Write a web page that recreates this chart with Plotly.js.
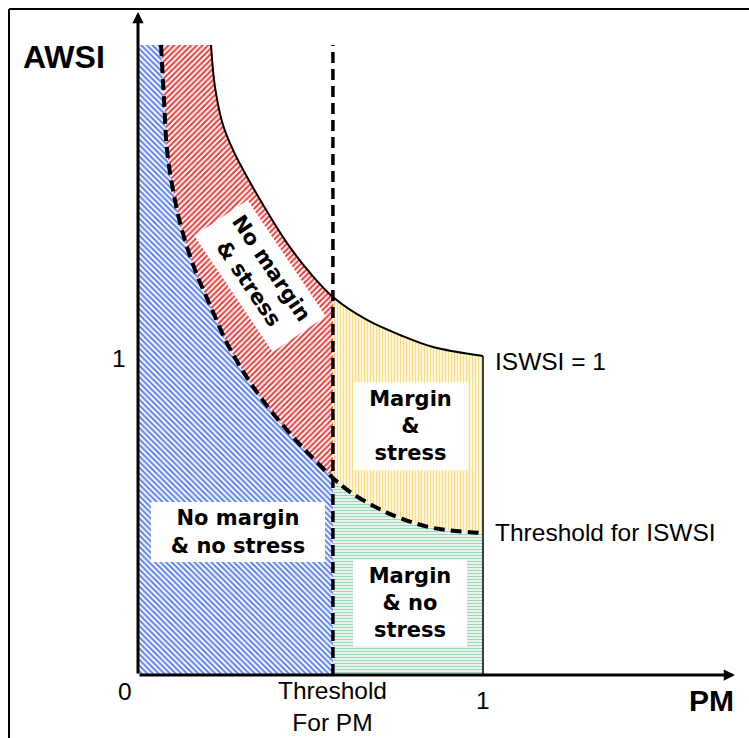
<!DOCTYPE html>
<html><head><meta charset="utf-8">
<script src="https://cdn.plot.ly/plotly-3.0.1.min.js"></script>
<style>html,body{margin:0;padding:0;background:#fff}#chart{width:749px;height:738px}</style>
</head><body><div id="chart"></div>
<script>
// ---- data ----
const PM_THRESHOLD = 0.565;
const AWSI_CAP = 1.975;
// ISWSI = 1 curve
const iswsiPM   = [0.2116, 0.2232, 0.2464, 0.2783, 0.3246, 0.3768, 0.4377, 0.5014, 0.565, 0.6638, 0.7594, 0.8551, 1.0];
const iswsiAWSI = [1.975, 1.843, 1.724, 1.639, 1.545, 1.448, 1.345, 1.257, 1.185, 1.113, 1.066, 1.028, 1.0];
// Threshold for ISWSI curve
const thrPM   = [0.0667, 0.0754, 0.0841, 0.1014, 0.1275, 0.1652, 0.2087, 0.2609, 0.3246, 0.3884, 0.4783, 0.565, 0.6145, 0.6928, 0.7594, 0.8551, 1.0];
const thrAWSI = [1.975, 1.803, 1.646, 1.520, 1.395, 1.270, 1.160, 1.034, 0.918, 0.824, 0.712, 0.618, 0.574, 0.524, 0.492, 0.461, 0.445];
// ticks and texts
const xTickVals = [0, PM_THRESHOLD, 1];
const xTickText = ['0', 'Threshold<br>For PM', '1'];
const yTickVals = [1];
const yTickText = ['1'];
const axisTitles = {x: 'PM', y: 'AWSI'};
const curveLabels = ['ISWSI = 1', 'Threshold for ISWSI'];
const regionLabels = ['No margin<br>& no stress', 'No margin<br>& stress', 'Margin<br>&<br>stress', 'Margin<br>& no<br>stress'];

// ---- geometry of the page ----
const W = 749, H = 738;
const M = {l: 138, r: 7, t: 8, b: 63};
const PX_PER_X = 345, PX_PER_Y = 319;
const plotW = W - M.l - M.r, plotH = H - M.t - M.b;
const px2px = px => (px - M.l) / plotW;           // pixel -> paper x
const py2py = py => (H - M.b - py) / plotH;       // pixel -> paper y

function seg(xs, ys, test) {
  const X = [], Y = [];
  xs.forEach((x, i) => { if (test(x)) { X.push(x); Y.push(ys[i]); } });
  return {x: X, y: Y};
}
const eps = 1e-9;
const upL = seg(iswsiPM, iswsiAWSI, x => x <= PM_THRESHOLD + eps);
const upR = seg(iswsiPM, iswsiAWSI, x => x >= PM_THRESHOLD - eps);
const loL = seg(thrPM, thrAWSI, x => x <= PM_THRESHOLD + eps);
const loR = seg(thrPM, thrAWSI, x => x >= PM_THRESHOLD - eps);

const hidden = s => ({x: s.x, y: s.y, mode: 'lines', line: {width: 0, shape: 'spline', smoothing: 1},
  hoverinfo: 'skip', showlegend: false});
const pat = (shape, fg, size, sol) => ({shape: shape, fgcolor: fg, bgcolor: '#ffffff', size: size, solidity: sol, fillmode: 'replace'});

const traces = [
  hidden(loL),
  {x: [0, 0, PM_THRESHOLD], y: [AWSI_CAP, 0, 0], mode: 'lines', line: {width: 0}, fill: 'tonexty',
   fillcolor: '#ffffff', fillpattern: pat('\\', '#5b7ff0', 4, 0.5), hoverinfo: 'skip', showlegend: false},
  hidden(upL),
  {x: loL.x, y: loL.y, mode: 'lines', line: {width: 0, shape: 'spline', smoothing: 1}, fill: 'tonexty',
   fillcolor: '#ffffff', fillpattern: pat('/', '#ee3b3b', 4, 0.5), hoverinfo: 'skip', showlegend: false},
  hidden(loR),
  {x: [PM_THRESHOLD, 1], y: [0, 0], mode: 'lines', line: {width: 0}, fill: 'tonexty',
   fillcolor: '#ffffff', fillpattern: pat('-', '#9fd3b3', 3, 0.5), hoverinfo: 'skip', showlegend: false},
  hidden(upR),
  {x: loR.x, y: loR.y, mode: 'lines', line: {width: 0, shape: 'spline', smoothing: 1}, fill: 'tonexty',
   fillcolor: '#ffffff', fillpattern: pat('|', '#ffdc7a', 3, 0.5), hoverinfo: 'skip', showlegend: false},
  // curves and lines
  {x: iswsiPM, y: iswsiAWSI, mode: 'lines', line: {color: '#000', width: 2, shape: 'spline', smoothing: 1}, showlegend: false},
  {x: [1, 1], y: [iswsiAWSI[iswsiAWSI.length - 1], 0], mode: 'lines', line: {color: '#000', width: 1.5}, showlegend: false},
  {x: thrPM, y: thrAWSI, mode: 'lines', line: {color: '#000', width: 4, dash: '11px,6px', shape: 'spline', smoothing: 1}, showlegend: false},
  {x: [PM_THRESHOLD, PM_THRESHOLD], y: [0, AWSI_CAP], mode: 'lines', line: {color: '#000', width: 3.5, dash: '11px,6px'}, showlegend: false}
];

const sans = 'Liberation Sans, Arial, sans-serif';
const boxFont = {family: 'DejaVu Sans, Verdana, sans-serif', size: 21, color: '#000', weight: 'bold'};
const LBL = 24.5;
const annotations = [];

// axis arrows
annotations.push({x: (735 - M.l) / PX_PER_X, y: 0, ax: 0, ay: 0, xref: 'x', yref: 'y', axref: 'x', ayref: 'y',
  text: '', showarrow: true, arrowhead: 2, arrowsize: 0.75, arrowwidth: 3, arrowcolor: '#000', standoff: 0, startstandoff: 0});
annotations.push({x: 0, y: (H - M.b - 12) / PX_PER_Y, ax: 0, ay: 0, xref: 'x', yref: 'y', axref: 'x', ayref: 'y',
  text: '', showarrow: true, arrowhead: 2, arrowsize: 0.75, arrowwidth: 3, arrowcolor: '#000', standoff: 0, startstandoff: 0});

// x tick labels
const xTickY = [691, 706, 700];
const xTickAnchor = ['right', 'center', 'center'];
const xTickShift = [-4, 0, 0];
xTickVals.forEach((v, i) => annotations.push({x: v, y: py2py(xTickY[i]), xref: 'x', yref: 'paper',
  text: xTickText[i], showarrow: false, xanchor: xTickAnchor[i], yanchor: 'middle', xshift: xTickShift[i],
  font: {family: sans, size: LBL, color: '#000'}}));
// y tick labels
yTickVals.forEach((v, i) => annotations.push({x: 0, y: v, xref: 'paper', yref: 'y', text: yTickText[i],
  showarrow: false, xanchor: 'right', yanchor: 'middle', xshift: -10, yshift: -2,
  font: {family: sans, size: LBL, color: '#000'}}));

// axis titles
annotations.push({x: px2px(64), y: py2py(57), xref: 'paper', yref: 'paper', text: axisTitles.y, showarrow: false,
  xanchor: 'center', yanchor: 'middle', font: {family: sans, size: 32, color: '#000', weight: 'bold'}});
annotations.push({x: px2px(711), y: py2py(700), xref: 'paper', yref: 'paper', text: axisTitles.x, showarrow: false,
  xanchor: 'center', yanchor: 'middle', font: {family: sans, size: 30, color: '#000', weight: 'bold'}});

// curve labels
annotations.push({x: px2px(493), y: py2py(361), xref: 'paper', yref: 'paper', text: curveLabels[0], showarrow: false,
  xanchor: 'left', yanchor: 'middle', font: {family: sans, size: LBL, color: '#000'}});
annotations.push({x: px2px(493), y: py2py(532), xref: 'paper', yref: 'paper', text: curveLabels[1], showarrow: false,
  xanchor: 'left', yanchor: 'middle', font: {family: sans, size: LBL, color: '#000'}});

// region labels in white boxes
const boxes = [
  {cx: 238, cy: 532, w: 174, h: 60, a: 0},
  {cx: 260, cy: 276, w: 140, h: 64, a: 56},
  {cx: 410, cy: 426, w: 115, h: 88, a: 0},
  {cx: 410, cy: 603, w: 114, h: 86, a: 0}
];
boxes.forEach((b, i) => annotations.push({x: px2px(b.cx), y: py2py(b.cy), xref: 'paper', yref: 'paper',
  text: regionLabels[i], showarrow: false, xanchor: 'center', yanchor: 'middle', textangle: b.a,
  width: b.w, height: b.h, bgcolor: '#ffffff', borderpad: 0, borderwidth: 0, align: 'center', valign: 'middle',
  font: boxFont}));

const shapes = [
  {type: 'line', xref: 'paper', yref: 'paper', x0: px2px(9), x1: px2px(9), y0: py2py(9), y1: py2py(740), line: {color: '#000', width: 2}},
  {type: 'line', xref: 'paper', yref: 'paper', x0: px2px(9), x1: px2px(752), y0: py2py(9), y1: py2py(9), line: {color: '#000', width: 2}}
];

const layout = {
  width: W, height: H, margin: M, paper_bgcolor: '#ffffff', plot_bgcolor: '#ffffff', showlegend: false,
  xaxis: {range: [0, plotW / PX_PER_X], visible: false, fixedrange: true},
  yaxis: {range: [0, plotH / PX_PER_Y], visible: false, fixedrange: true},
  annotations: annotations, shapes: shapes
};
Plotly.newPlot('chart', traces, layout, {staticPlot: true, displayModeBar: false});
</script></body></html>
